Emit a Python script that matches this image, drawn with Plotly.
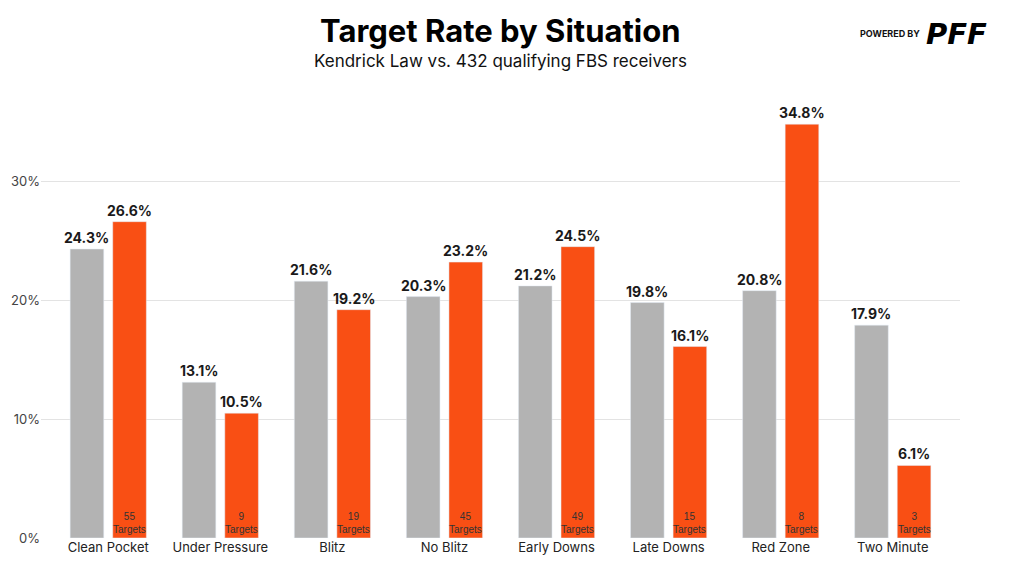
import plotly.graph_objects as go

categories = ["Clean Pocket", "Under Pressure", "Blitz", "No Blitz", "Early Downs", "Late Downs", "Red Zone", "Two Minute"]
fbs_avg = [24.3, 13.1, 21.6, 20.3, 21.2, 19.8, 20.8, 17.9]
law = [26.6, 10.5, 19.2, 23.2, 24.5, 16.1, 34.8, 6.1]
targets = [55, 9, 19, 45, 49, 15, 8, 3]
y_ticks = [0, 10, 20, 30]

GRAY = "#b3b3b3"
ORANGE = "#f94f14"
FONT = "Inter"

idx = list(range(len(categories)))
W, H = 1024, 571
OFF = 8  # page body margin
ML, MR, MT, MB = 41 - OFF, 64 + OFF, 98 - OFF, 33 + OFF

fig = go.Figure()
fig.add_trace(go.Bar(x=idx, y=fbs_avg, width=0.30, offset=-0.34, marker_color=GRAY,
                     showlegend=False, hoverinfo="skip"))
fig.add_trace(go.Bar(x=idx, y=law, width=0.30, offset=0.04, marker_color=ORANGE,
                     showlegend=False, hoverinfo="skip"))

for i, (a, b, t) in enumerate(zip(fbs_avg, law, targets)):
    for xv, yv in ((i - 0.19, a), (i + 0.19, b)):
        fig.add_annotation(x=xv, y=yv, xref="x", yref="y", yanchor="bottom", yshift=1,
                           text=f"<b>{yv:.1f}%</b>", showarrow=False,
                           font=dict(family=FONT, size=14, color="#1a1a1a"))
    fig.add_annotation(x=i + 0.19, y=0, xref="x", yref="y", yanchor="bottom", yshift=1,
                       text=f"{t}<br>Targets", showarrow=False,
                       font=dict(family="Liberation Sans", size=10, color="#333333"),
                       align="center")

fig.update_layout(
    width=W, height=H,
    margin=dict(l=ML, r=MR, t=MT, b=MB, autoexpand=False),
    paper_bgcolor="white", plot_bgcolor="white",
    xaxis=dict(range=[-0.6, 7.6], tickvals=idx, ticktext=categories, automargin=False,
               showgrid=False, zeroline=False, showline=False, ticks="",
               tickfont=dict(family=FONT, size=13, color="#222222")),
    yaxis=dict(range=[0, 37], tickvals=y_ticks, ticktext=[f"{v}%" for v in y_ticks],
               automargin=False, showgrid=True, gridcolor="#e3e3e3", gridwidth=1, zeroline=False,
               tickfont=dict(family=FONT, size=13, color="#444444")),
    font=dict(family=FONT),
)

def py(ypx):
    return (H - MB - (ypx - OFF)) / (H - MT - MB)

def px(xpx):
    return ((xpx - OFF) - ML) / (W - ML - MR)

fig.add_annotation(x=px(500), y=py(31), xref="paper", yref="paper", yanchor="middle",
                   text="<b>Target Rate by Situation</b>", showarrow=False,
                   font=dict(family=FONT, size=31, color="#000000", weight=800))
fig.add_annotation(x=px(500), y=py(61), xref="paper", yref="paper", yanchor="middle",
                   text="Kendrick Law vs. 432 qualifying FBS receivers", showarrow=False,
                   font=dict(family=FONT, size=17, color="#111111"))
fig.add_annotation(x=px(922), y=py(34), xref="paper", yref="paper", yanchor="middle", xanchor="right",
                   text="<b>POWERED BY</b>", showarrow=False,
                   font=dict(family=FONT, size=9, color="#111111"))
fig.add_annotation(x=px(924), y=py(34), xref="paper", yref="paper", yanchor="middle", xanchor="left",
                   text="<b><i>PFF</i></b>", showarrow=False,
                   font=dict(family="DejaVu Sans", size=29, color="#000000", weight=900))

fig.write_html("out.html")
